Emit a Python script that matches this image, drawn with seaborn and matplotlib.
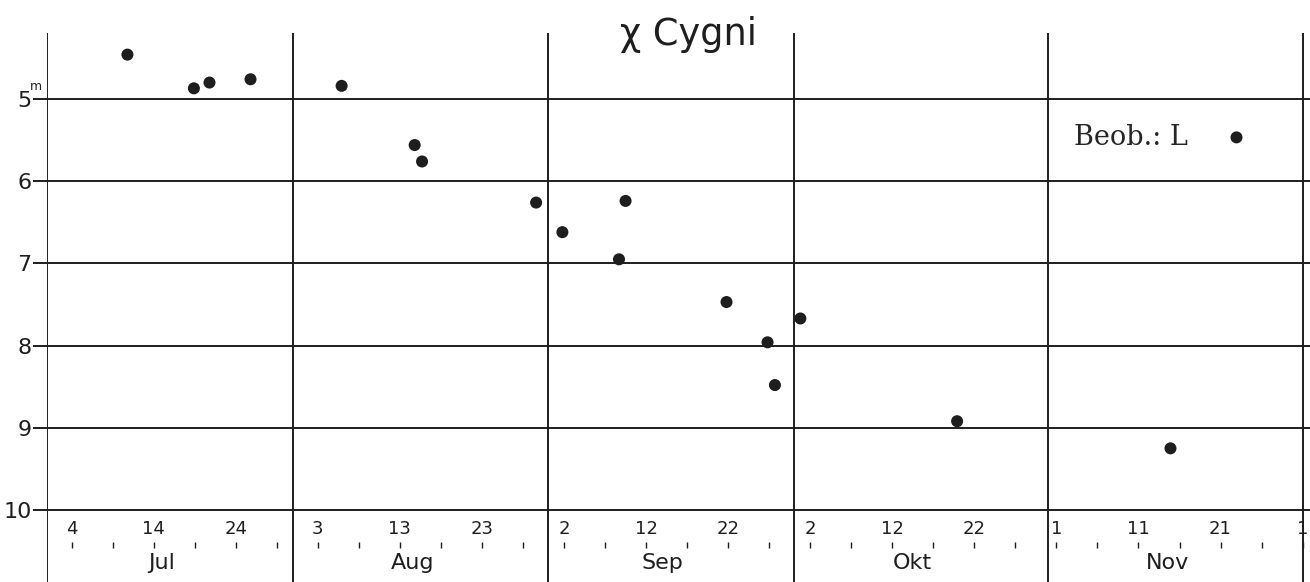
import numpy as np
import matplotlib
matplotlib.use("Agg")
import matplotlib.pyplot as plt
import seaborn as sns

sns.set_theme(style="white")
plt.rcParams['font.family'] = ['DejaVu Sans']

# Observations of chi Cygni, day counted from 1 July (0 = 1 Jul), magnitude in m
obs_day = [9.8, 17.9, 19.8, 24.8, 35.9, 44.8, 45.7, 59.6, 62.8, 70.5, 69.7,
           82.8, 87.8, 88.7, 91.8, 110.9, 136.9]
obs_mag = [4.46, 4.87, 4.80, 4.76, 4.84, 5.56, 5.76, 6.26, 6.62, 6.24, 6.95,
           7.47, 7.96, 8.48, 7.67, 8.92, 9.25]

# month grid lines as drawn on the chart and month names
month_lines = [0, 30, 61, 91, 122, 153]
month_names = ['Jul', 'Aug', 'Sep', 'Okt', 'Nov']

# labelled days along the bottom
day_pos = [3, 13, 23, 33, 43, 53, 63, 73, 83, 93, 103, 113, 123, 133, 143, 153]
day_txt = ['4', '14', '24', '3', '13', '23', '2', '12', '22',
           '2', '12', '22', '1', '11', '21', '1']
small_ticks = np.arange(3, 154, 5)

mag_ticks = [5, 6, 7, 8, 9, 10]

ink = '#1e1e1e'

fig = plt.figure(figsize=(13.1, 5.82), dpi=100)
ax = fig.add_axes([47 / 1310, 0, 1263 / 1310, 549 / 582])
ax.set_xlim(0, 153.9)
ax.set_ylim(10.876, 4.197)

# grid drawn by hand
for d in month_lines:
    ax.axvline(d, color=ink, lw=1.4, zorder=1)
for m in mag_ticks:
    ax.axhline(m, color=ink, lw=1.4, zorder=1)

sns.despine(ax=ax, left=True, bottom=True)
ax.set_xticks([])
ax.set_yticks(mag_ticks)
ax.set_yticklabels([str(m) for m in mag_ticks])
ax.tick_params(axis='y', direction='out', length=10, width=1.4, color=ink,
               pad=1, labelsize=16, labelcolor=ink, left=True)
ax.annotate('m', xy=(0, 5), xycoords='data', xytext=(-8, 9),
            textcoords='offset points', fontsize=9, ha='center', va='center',
            color=ink, annotation_clip=False)

# day scale at the bottom
ax.plot(small_ticks, [10.43] * len(small_ticks), linestyle='none', marker='|',
        markersize=4.5, mew=1.0, color=ink)
for pos, txt in zip(day_pos, day_txt):
    ax.text(pos, 10.29, txt, ha='center', va='baseline', fontsize=13, color=ink)
for i, name in enumerate(month_names):
    mid = (month_lines[i] + month_lines[i + 1]) / 2 - 1
    ax.text(mid, 10.72, name, ha='center', va='baseline', fontsize=16, color=ink)

# observations
sns.scatterplot(x=obs_day, y=obs_mag, ax=ax, s=75, color=ink, edgecolor='none',
                zorder=3, legend=False)
h = ax.collections[-1]
ax.legend([h], ['Beob.: L'], markerfirst=False, frameon=False,
          prop={'family': 'DejaVu Serif', 'size': 19.5}, scatterpoints=1,
          handletextpad=1.0, handlelength=1.6, loc='center',
          bbox_to_anchor=(1166 / 1310, 1 - 137 / 582),
          bbox_transform=fig.transFigure, borderpad=0, borderaxespad=0)

fig.text(688.5 / 1310, 1 - 45 / 582, 'χ Cygni', ha='center', va='baseline',
         fontsize=26.5, color=ink)

fig.savefig('out.png', dpi=100)
